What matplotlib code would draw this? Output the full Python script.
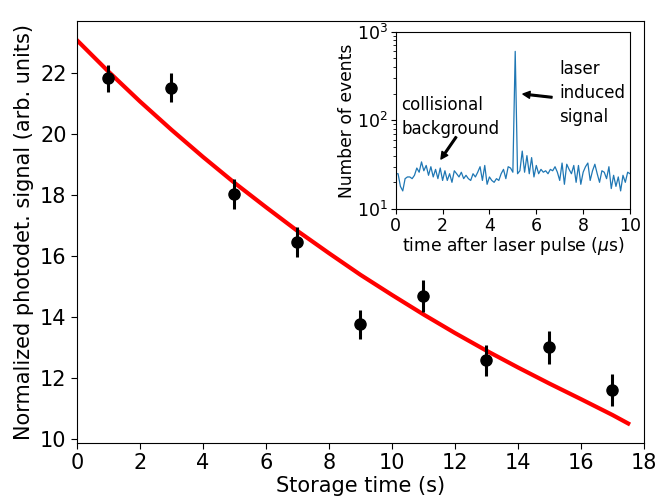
import numpy as np
import matplotlib
matplotlib.use('Agg')
import matplotlib.pyplot as plt

storage_time = [1, 3, 5, 7, 9, 11, 13, 15, 17]
signal = [21.83, 21.52, 18.03, 16.45, 13.76, 14.68, 12.58, 13.0, 11.6]
signal_err = [0.44, 0.48, 0.49, 0.50, 0.48, 0.52, 0.51, 0.54, 0.52]

# fitted decay curve, sampled from the figure
fit_time = [0, 1, 2, 3, 4, 5, 6, 7, 8, 9, 10, 11, 12, 13, 14, 15, 16, 17, 17.5]
fit_signal = [23.08, 22.05, 21.07, 20.14, 19.25, 18.40, 17.60, 16.82, 16.09, 15.38,
              14.72, 14.08, 13.47, 12.89, 12.34, 11.81, 11.30, 10.78, 10.50]

# inset histogram, 0.1 us bins from 0 to 10 us
counts = [25, 25, 18, 16, 22, 23, 23, 22, 24, 29,
          26, 34, 27, 31, 24, 30, 23, 28, 22, 29,
          21, 27, 21, 25, 20, 27, 25, 23, 26, 22,
          24, 22, 21, 25, 23, 26, 30, 21, 31, 19,
          23, 21, 20, 22, 21, 25, 28, 22, 30, 29,
          26, 600, 25, 27, 45, 26, 40, 25, 38, 23,
          31, 25, 28, 26, 27, 25, 28, 27, 30, 26,
          21, 33, 19, 32, 28, 25, 31, 20, 31, 19,
          26, 30, 33, 21, 27, 32, 25, 20, 27, 26,
          22, 30, 17, 24, 18, 23, 16, 24, 20, 26, 25]
bin_width = 0.1

fig = plt.figure(figsize=(6.59, 5.04), dpi=100)
ax = fig.add_axes([0.1168, 0.121, 0.8604, 0.8373])

ax.plot(fit_time, fit_signal, color='red', lw=3)
ax.errorbar(storage_time, signal, yerr=signal_err, fmt='o', color='black',
            ms=8, elinewidth=2.2, capsize=0)

ax.set_xlim(0, 18)
ax.set_ylim(9.86, 23.71)
ax.set_xticks(range(0, 19, 2))
ax.set_yticks(range(10, 23, 2))
ax.tick_params(labelsize=15, length=4)
ax.set_xlabel('Storage time (s)', fontsize=15, labelpad=2)
ax.set_ylabel('Normalized photodet. signal (arb. units)', fontsize=15, labelpad=4)

# inset
ins = fig.add_axes([0.6005, 0.5853, 0.3555, 0.3518])
t = np.arange(len(counts)) * bin_width
ins.plot(t, counts, color='#1f77b4', lw=0.9)
ins.set_yscale('log')
ins.set_xlim(0, 10)
ins.set_ylim(10, 1000)
ins.set_xticks(range(0, 11, 2))
ins.tick_params(labelsize=12.5, pad=2)
ins.set_xlabel(r'time after laser pulse ($\mu$s)', fontsize=12.3, labelpad=0)
ins.set_ylabel('Number of events', fontsize=12.3, labelpad=1)

ins.annotate('', xy=(1.93, 36.6), xytext=(2.58, 65),
             arrowprops=dict(facecolor='black', edgecolor='black', width=1.2,
                             headwidth=5, headlength=5))
ins.text(0.25, 70, 'collisional\nbackground', fontsize=12, linespacing=1.45)
ins.annotate('', xy=(5.43, 198), xytext=(6.67, 182),
             arrowprops=dict(facecolor='black', edgecolor='black', width=1.2,
                             headwidth=5, headlength=5))
ins.text(6.97, 95, 'laser\ninduced\nsignal', fontsize=12, linespacing=1.45)

fig.savefig('out.png', dpi=100)
